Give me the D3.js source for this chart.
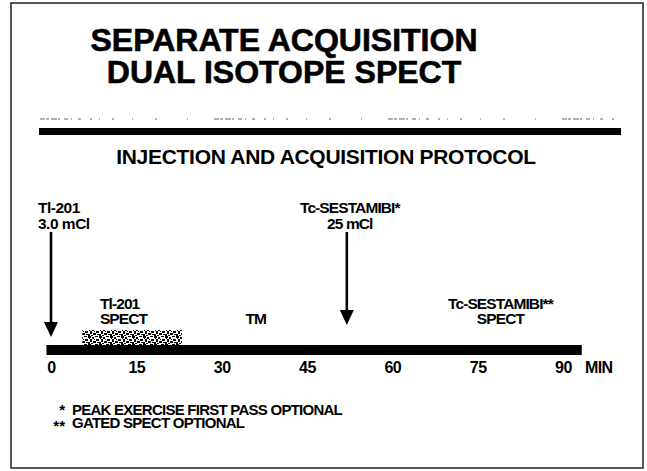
<!DOCTYPE html>
<html>
<head>
<meta charset="utf-8">
<script src="https://cdn.jsdelivr.net/npm/d3@7"></script>
<style>
  body { margin: 0; background: #fff; }
  svg { display: block; font-family: 'Liberation Sans', Arial, Helvetica, sans-serif; font-weight: bold; }
</style>
</head>
<body>
<script>
const W = 647, H = 471;

// chart content
const titleLines = ['SEPARATE ACQUISITION', 'DUAL ISOTOPE SPECT'];
const subtitle = 'INJECTION AND ACQUISITION PROTOCOL';
const tickMinutes = [0, 15, 30, 45, 60, 75, 90];
const unitLabel = 'MIN';
const timelineSpan = [-0.8, 93.3];
const injectionTimes = [0, 52];
const injectionLabels = [['Tl-201', '3.0 mCl'], ['Tc-SESTAMIBI*', '25 mCl']];
const phaseTimes = [8.6, 36, 79];
const phaseLabels = [['Tl-201', 'SPECT'], ['TM'], ['Tc-SESTAMIBI**', 'SPECT']];
const tlSpectWindow = [5.5, 23];
const footnoteMarks = ['*', '**'];
const footnotes = ['PEAK EXERCISE FIRST PASS OPTIONAL', 'GATED SPECT OPTIONAL'];

const svg = d3.select('body').append('svg')
    .attr('width', W)
    .attr('height', H);

// speckled fill used for the scanned Tl-201 SPECT block
const defs = svg.append('defs');
const pat = defs.append('pattern')
    .attr('id', 'speckle')
    .attr('patternUnits', 'userSpaceOnUse')
    .attr('width', 11).attr('height', 8);
[[0, 0, 3, 2], [4, 1, 2, 2], [7, 0, 3, 1], [8, 3, 3, 2], [2, 3, 2, 3], [5, 5, 3, 2],
 [0, 6, 2, 2], [9, 6, 2, 1], [1, 2, 1, 1], [6, 3, 1, 1], [3, 7, 2, 1]]
    .forEach(r => pat.append('rect')
        .attr('x', r[0]).attr('y', r[1]).attr('width', r[2]).attr('height', r[3])
        .attr('fill', '#000'));

// frame
svg.append('rect')
    .attr('x', 11).attr('y', 3)
    .attr('width', 632).attr('height', 465)
    .attr('fill', 'none')
    .attr('stroke', '#222')
    .attr('stroke-width', 1.5);

// title
svg.append('g').selectAll('text')
    .data(titleLines)
    .enter().append('text')
    .attr('x', 284)
    .attr('y', (d, i) => 50.5 + i * 32.5)
    .attr('text-anchor', 'middle')
    .attr('stroke', '#000')
    .attr('stroke-width', 0.6)
    .style('font-size', '32px')
    .text(d => d);

// scan residue above the rule
svg.append('line')
    .attr('x1', 40).attr('x2', 620)
    .attr('y1', 119).attr('y2', 119)
    .attr('stroke', '#444')
    .attr('stroke-width', 1.4)
    .attr('stroke-dasharray', '5,1,3,2,6,1,2,4,4,3,1,6,3,9,2,7,1,12,2,18,1,22,2,30,1,26')
    .attr('opacity', 0.55);

// heavy rule under the title
svg.append('rect')
    .attr('x', 39).attr('y', 128)
    .attr('width', 582).attr('height', 7)
    .attr('fill', '#000');

svg.append('text')
    .attr('x', 326)
    .attr('y', 164)
    .attr('text-anchor', 'middle')
    .style('font-size', '21px')
    .style('letter-spacing', '-0.3px')
    .text(subtitle);

// time scale
const x = d3.scaleLinear()
    .domain([0, 90])
    .range([51, 563]);

const barTop = 345, barH = 10;

// Tl-201 acquisition block (speckled in the scan)
svg.append('rect')
    .attr('x', x(tlSpectWindow[0]))
    .attr('y', 330)
    .attr('width', x(tlSpectWindow[1]) - x(tlSpectWindow[0]))
    .attr('height', barTop - 330)
    .attr('fill', 'url(#speckle)');

// timeline bar
svg.append('rect')
    .attr('x', x(timelineSpan[0]))
    .attr('y', barTop)
    .attr('width', x(timelineSpan[1]) - x(timelineSpan[0]))
    .attr('height', barH)
    .attr('fill', '#000');

// axis labels
const axis = svg.append('g')
    .attr('transform', 'translate(0,' + (barTop + barH) + ')')
    .call(d3.axisBottom(x).tickValues(tickMinutes).tickSize(0).tickPadding(6.6).tickFormat(d3.format('d')));
axis.select('.domain').remove();
axis.selectAll('text')
    .attr('fill', '#000')
    .style('font-family', "'Liberation Sans', Arial, sans-serif")
    .style('font-weight', 'bold')
    .style('font-size', '16px')
    .style('letter-spacing', '-0.5px');

svg.append('text')
    .attr('x', x(90) + 22)
    .attr('y', 373)
    .style('font-size', '16px')
    .style('letter-spacing', '-0.6px')
    .text(unitLabel);

// injection arrows
const arrowTips = [337, 325];
const injG = svg.append('g').selectAll('g')
    .data(injectionTimes)
    .enter().append('g');

injG.append('line')
    .attr('x1', d => x(d)).attr('x2', d => x(d))
    .attr('y1', 232)
    .attr('y2', (d, i) => arrowTips[i] - 12)
    .attr('stroke', '#000')
    .attr('stroke-width', 2.6);

injG.append('path')
    .attr('d', (d, i) => {
        const cx = x(d), t = arrowTips[i];
        return 'M' + (cx - 7) + ',' + (t - 15) + 'L' + (cx + 7) + ',' + (t - 15) + 'L' + cx + ',' + t + 'Z';
    })
    .attr('fill', '#000');

injG.each(function (d, i) {
    const g = d3.select(this);
    const left = i === 0;
    injectionLabels[i].forEach((s, j) => {
        g.append('text')
            .attr('x', left ? x(d) - 13 : x(d) + 3)
            .attr('y', 213 + j * 16)
            .attr('text-anchor', left ? 'start' : 'middle')
            .style('font-size', '15.5px')
            .style('letter-spacing', left ? '-0.5px' : '-0.9px')
            .text(s);
    });
});

// phase labels
svg.append('g').selectAll('g')
    .data(phaseTimes)
    .enter().append('g')
    .each(function (d, i) {
        const lines = phaseLabels[i];
        const g = d3.select(this);
        lines.forEach((s, j) => {
            g.append('text')
                .attr('x', x(d))
                .attr('y', 323.5 - (lines.length - 1 - j) * 15)
                .attr('text-anchor', i === 0 ? 'start' : 'middle')
                .style('font-size', '15.5px')
                .style('letter-spacing', '-0.9px')
                .text(s);
        });
    });

// footnotes
const notes = svg.append('g').selectAll('g')
    .data(footnotes)
    .enter().append('g');
notes.append('text')
    .attr('x', 65)
    .attr('y', (d, i) => 415 + i * 12 + (i === 0 ? 0 : 4))
    .attr('text-anchor', 'end')
    .style('font-size', '15px')
    .text((d, i) => footnoteMarks[i]);
notes.append('text')
    .attr('x', 72)
    .attr('y', (d, i) => 415 + i * 12.5)
    .style('font-size', '15px')
    .style('letter-spacing', '-0.75px')
    .text(d => d);
</script>
</body>
</html>
